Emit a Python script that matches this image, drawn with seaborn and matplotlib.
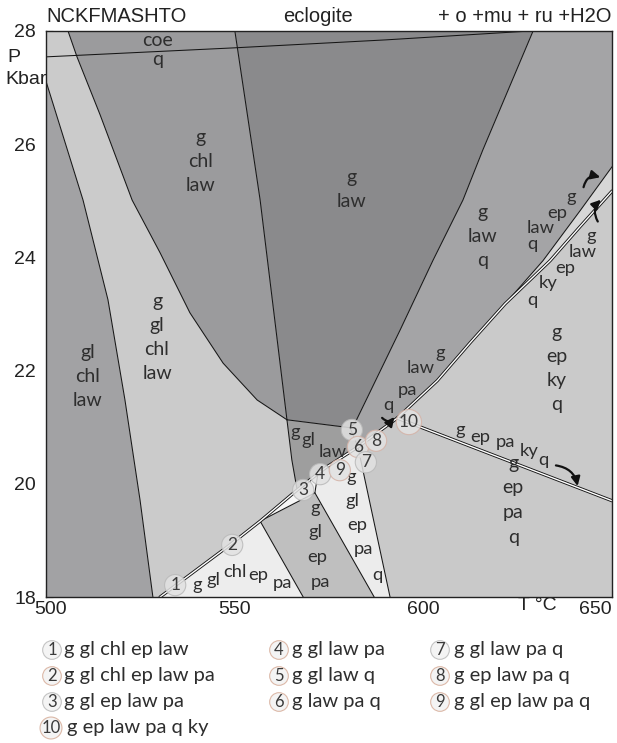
import numpy as np
import pandas as pd
import matplotlib
matplotlib.use("Agg")
import matplotlib.pyplot as plt
import matplotlib.transforms as mtransforms
import seaborn as sns

# ---- Phase boundaries (T in °C, P in kbar) ----
coe_T = [500, 550.1, 590, 629]
coe_P = [27.54, 27.70, 27.84, 28.0]

g_in_T = [500, 509.9, 516.5, 521.0, 525.0, 528.4]
g_in_P = [27.13, 25.01, 23.25, 21.48, 19.71, 18.0]

gl_out_T = [505.9, 508.3, 514.4, 522.9, 530.3, 538.2, 547.0, 556.0, 563.9]
gl_out_P = [28.0, 27.54, 26.52, 25.01, 24.08, 23.02, 22.13, 21.48, 21.13]

chl_out_T = [550.1, 556.8, 563.9]
chl_out_P = [28.0, 25.01, 21.13]

q_in_T = [629.1, 615.8, 610.5, 602.6, 593.9, 581.9, 580.6]
q_in_P = [28.0, 25.90, 25.01, 23.95, 22.72, 21.07, 20.99]

gl_in_T = [563.9, 580.6, 582.7]
gl_in_P = [21.13, 20.99, 20.65]

chl_lo_T = [563.9, 565.2, 566.6]
chl_lo_P = [21.13, 20.42, 19.89]

law_out_T = [530.3, 548.8, 556.8, 566.6, 572.1, 574.5, 582.7, 593.1, 603.7, 612.4, 621.7]
law_out_P = [18.0, 18.92, 19.34, 19.89, 20.18, 20.30, 20.65, 21.16, 21.82, 22.49, 23.18]

ep_in_T = [621.7, 631.7, 641.5, 650]
ep_in_P = [23.18, 23.94, 24.82, 25.60]

law_hi_T = [621.7, 633.6, 641.5, 650]
law_hi_P = [23.18, 23.94, 24.54, 25.17]

pa_ky_T = [593.1, 650]
pa_ky_P = [21.16, 19.70]

gl_ep_T = [582.7, 591.2]
gl_ep_P = [20.65, 18.0]

q_ep_T = [571.3, 587.0]
q_ep_P = [19.84, 18.0]

chl_ep_T = [556.8, 568.2]
chl_ep_P = [19.34, 18.0]

wedge_T = [556.8, 571.3, 572.1]
wedge_P = [19.34, 19.84, 20.18]

# ---- Field labels ----
stack_labels = [
    ("coe\nq", 529.7, 27.66, 1.2),
    ("g\nchl\nlaw", 540.9, 25.69, 1.5),
    ("g\nlaw", 581.1, 25.19, 1.5),
    ("g\nlaw\nq", 615.8, 24.36, 1.5),
    ("g\ngl\nchl\nlaw", 529.5, 22.58, 1.5),
    ("gl\nchl\nlaw", 511.2, 21.90, 1.5),
    ("g\nep\nky\nq", 635.4, 22.03, 1.5),
    ("g\nep\npa\nq", 623.8, 19.71, 1.55),
]

word_labels = [
    ("g", 639.1, 25.07), ("ep", 635.4, 24.78), ("law", 631.2, 24.52), ("q", 628.9, 24.23),
    ("g", 644.5, 24.37), ("law", 642.1, 24.09), ("ep", 637.6, 23.81), ("ky", 633.1, 23.55), ("q", 628.8, 23.25),
    ("g", 604.5, 22.31), ("law", 599.2, 22.05), ("pa", 595.8, 21.66), ("q", 590.7, 21.39),
    ("g", 609.8, 20.95), ("ep", 615.1, 20.83), ("pa", 621.7, 20.74), ("ky", 628.0, 20.57), ("q", 631.9, 20.42),
    ("g", 566.1, 20.92), ("gl", 569.5, 20.77), ("law", 576.1, 20.56),
    ("g", 580.9, 20.12), ("gl", 581.1, 19.70), ("ep", 582.5, 19.27), ("pa", 584.1, 18.85), ("q", 587.8, 18.39),
    ("g", 571.3, 19.57), ("gl", 571.3, 19.15), ("ep", 571.9, 18.71), ("pa", 572.7, 18.26),
    ("g", 540.1, 18.22), ("gl", 544.3, 18.30), ("chl", 550.1, 18.44), ("ep", 556.2, 18.38), ("pa", 562.8, 18.24),
]

field_num = [1, 2, 3, 4, 5, 6, 7, 8, 9, 10]
field_T = [534.3, 549.4, 568.2, 572.7, 581.1, 582.7, 584.8, 587.5, 577.9, 596.2]
field_P = [18.21, 18.92, 19.89, 20.17, 20.95, 20.65, 20.38, 20.76, 20.24, 21.09]
field_names = [
    "g gl chl ep law", "g gl chl ep law pa", "g gl ep law pa", "g gl law pa",
    "g gl law q", "g law pa q", "g gl law pa q", "g ep law pa q",
    "g gl ep law pa q", "g ep law pa q ky",
]
tinted = {2, 4, 5, 6, 8, 9, 10}

# ---- Style ----
sns.set_theme(style="white")
plt.rcParams["font.family"] = ["Liberation Sans", "DejaVu Sans"]
LBL = ["Lato", "DejaVu Sans"]
TXT = "#2e2e2e"


def pts(T, P):
    return list(zip(T, P))


D = pts(law_out_T, law_out_P)
EP = pts(ep_in_T, ep_in_P)
LH = pts(law_hi_T, law_hi_P)
PK = pts(pa_ky_T, pa_ky_P)
GE = pts(gl_ep_T, gl_ep_P)
QE = pts(q_ep_T, q_ep_P)
CE = pts(chl_ep_T, chl_ep_P)
W = pts(wedge_T, wedge_P)
L1 = pts(g_in_T, g_in_P)
L2 = pts(gl_out_T, gl_out_P)
L3 = pts(chl_out_T, chl_out_P)
L4 = pts(q_in_T, q_in_P)
GI = pts(gl_in_T, gl_in_P)
CL = pts(chl_lo_T, chl_lo_P)

fields = [
    (L1 + [(500, 18)], "#a2a2a4"),                                       # gl chl law
    ([(500, 28)] + L2 + CL[1:] + D[2::-1] + L1[::-1], "#cbcbcb"),        # g gl chl law
    (L2 + L3[::-1], "#9b9b9d"),                                          # g chl law
    (L3 + L4[::-1], "#8a8a8c"),                                          # g law
    (L4 + D[6:] + EP[1:] + [(650, 28)], "#a4a4a6"),                      # g law q
    (EP + LH[::-1], "#d7d7d7"),                                          # g ep law q
    (D[7:] + LH[1:] + PK[::-1], "#cacaca"),                              # g ep ky q
    (D[6:8] + PK[1:] + [(650, 18)] + GE[::-1], "#c9c9c9"),               # g ep pa q
    (GI + D[5:2:-1] + CL[1::-1][:1], "#9e9e9e"),                         # g gl law
    ([QE[0]] + D[4:7] + [GE[1], QE[1]], "#ececec"),                      # g gl ep pa q
    ([CE[0], W[1], QE[1], CE[1]], "#bfbfbf"),                            # g gl ep pa
    (D[0:3] + [CE[1]], "#ededed"),                                       # g gl chl ep pa
    (D[2:5] + [W[1]], "#f6f6f6"),                                        # g gl ep law pa
]

fig = plt.figure(figsize=(6.17, 7.43), dpi=100)
ax = fig.add_axes([0.074, 0.1965, 0.918, 0.762])

for poly, col in fields:
    arr = np.array(poly)
    ax.fill(arr[:, 0], arr[:, 1], color=col, lw=0, zorder=1)

# single boundaries
single = {
    "coe": (coe_T, coe_P), "g_in": (g_in_T, g_in_P), "gl_out": (gl_out_T, gl_out_P),
    "chl_out": (chl_out_T, chl_out_P), "q_in": (q_in_T, q_in_P), "gl_in": (gl_in_T, gl_in_P),
    "chl_lo": (chl_lo_T, chl_lo_P), "ep_in": (ep_in_T, ep_in_P), "gl_ep": (gl_ep_T, gl_ep_P),
    "q_ep": (q_ep_T, q_ep_P), "chl_ep": (chl_ep_T, chl_ep_P), "wedge": (wedge_T, wedge_P),
}
rows = []
for name, (T, P) in single.items():
    for t, p in zip(T, P):
        rows.append((name, t, p))
df_single = pd.DataFrame(rows, columns=["boundary", "T", "P"])
sns.lineplot(data=df_single, x="T", y="P", units="boundary", estimator=None, sort=False,
             color="#151515", lw=0.75, ax=ax, zorder=3)

# double boundaries
double = {
    "law_out": (law_out_T + law_hi_T[1:], law_out_P + law_hi_P[1:]),
    "pa_ky": (pa_ky_T, pa_ky_P),
}
rows = []
for name, (T, P) in double.items():
    for t, p in zip(T, P):
        rows.append((name, t, p))
df_double = pd.DataFrame(rows, columns=["boundary", "T", "P"])
sns.lineplot(data=df_double, x="T", y="P", units="boundary", estimator=None, sort=False,
             color="#151515", lw=2.3, ax=ax, zorder=4)
sns.lineplot(data=df_double, x="T", y="P", units="boundary", estimator=None, sort=False,
             color="white", lw=1.0, ax=ax, zorder=5)

# field labels
for txt, t, p, ls in stack_labels:
    ax.text(t, p, txt, ha="center", va="center", fontsize=14, color=TXT,
            family=LBL, linespacing=ls, zorder=6)
for txt, t, p in word_labels:
    ax.text(t, p, txt, ha="center", va="center", fontsize=13.2, color=TXT,
            family=LBL, zorder=6)

# numbered small fields
for n, t, p in zip(field_num, field_T, field_P):
    ec = "#d4b2a6" if n in (6, 8, 9, 10) else "#b9b9b9"
    ax.text(t, p, str(n), ha="center", va="center", fontsize=12.5, color="#3a3a3a",
            family=LBL, zorder=8,
            bbox=dict(boxstyle="circle,pad=0.15", fc="#e2e2e2", ec=ec, lw=0.8, alpha=0.85))

# arrows pointing into narrow fields
arrow_kw = dict(arrowstyle="-|>,head_length=0.45,head_width=0.22", color="#111111", lw=1.6)
ax.annotate("", xy=(647.6, 25.40), xytext=(642.3, 25.19),
            arrowprops=dict(connectionstyle="arc3,rad=-0.6", **arrow_kw), zorder=9)
ax.annotate("", xy=(647.6, 25.05), xytext=(646.6, 24.59),
            arrowprops=dict(connectionstyle="arc3,rad=-0.45", **arrow_kw), zorder=9)
ax.annotate("", xy=(592.8, 21.22), xytext=(588.6, 21.20),
            arrowprops=dict(connectionstyle="arc3,rad=0.7", **arrow_kw), zorder=9)
ax.annotate("", xy=(641.0, 19.91), xytext=(634.4, 20.33),
            arrowprops=dict(connectionstyle="arc3,rad=-0.4", **arrow_kw), zorder=9)

# axes
ax.set_xlim(500, 650)
ax.set_ylim(18, 28)
ax.set_xlabel("")
ax.set_ylabel("")
ax.set_xticks([500, 550, 600, 650])
ax.set_xticks(np.arange(510, 650, 10), minor=True)
ax.set_yticks([18, 20, 22, 24, 26, 28])
ax.tick_params(axis="both", which="both", direction="in", colors="#222222",
               labelsize=14, labelcolor="#222222")
ax.tick_params(axis="x", which="major", length=5, width=0.8, pad=3)
ax.tick_params(axis="x", which="minor", length=4, width=0.6)
ax.tick_params(axis="y", which="major", length=5, width=0.8, pad=7)
ax.tick_params(bottom=True, left=True, which="both")
ax.tick_params(axis="y", which="minor", left=False)
labs = ax.get_xticklabels()
labs[-1].set_ha("right")
labs[0].set_transform(labs[0].get_transform() +
                      mtransforms.ScaledTranslation(5 / 100, 0, fig.dpi_scale_trans))
for sp in ax.spines.values():
    sp.set_color("#222222")
    sp.set_linewidth(1.0)
    sp.set_zorder(10)

fig.text(537 / 617, 1 - 605 / 743, "T °C", ha="center", va="center", fontsize=14, color="#222222")
fig.text(7 / 617, 1 - 57 / 743, "P", ha="left", va="center", fontsize=14, color="#222222")
fig.text(5 / 617, 1 - 79 / 743, "Kbar", ha="left", va="center", fontsize=14, color="#222222")
fig.text(46 / 617, 1 - 17 / 743, "NCKFMASHTO", ha="left", va="center", fontsize=14.5, color="#222222")
fig.text(318 / 617, 1 - 17 / 743, "eclogite", ha="center", va="center", fontsize=14.5, color="#222222")
fig.text(612 / 617, 1 - 17 / 743, "+ o +mu + ru +H2O", ha="right", va="center", fontsize=14.5, color="#222222")

# legend of numbered fields
leg_x = [(52, 64), (279, 292), (440, 454)]
leg_y = [650, 676, 702, 728]
order = [(0, 0), (0, 1), (0, 2), (1, 0), (1, 1), (1, 2), (2, 0), (2, 1), (2, 2), (0, 3)]
for n, name, (c, r) in zip(field_num, field_names, order):
    cx, tx = leg_x[c]
    if n == 10:
        cx, tx = 51, 67
    y = 1 - leg_y[r] / 743
    ec = "#dcb9a8" if n in tinted else "#c4c4c4"
    fig.text(cx / 617, y, str(n), ha="center", va="center", fontsize=12, color="#3a3a3a",
             family=LBL,
             bbox=dict(boxstyle="circle,pad=0.08", fc="#f4f4f4", ec=ec, lw=0.8))
    fig.text(tx / 617, y, name, ha="left", va="center", fontsize=14.5, color=TXT, family=LBL)

fig.savefig("out.png", dpi=100)
